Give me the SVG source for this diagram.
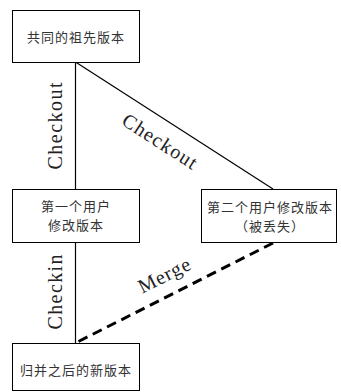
<svg xmlns="http://www.w3.org/2000/svg" width="341" height="392" viewBox="0 0 341 392">
<style>
.box{fill:#fff;stroke:#000;stroke-width:1}
.zh{font-family:"Noto Sans CJK SC","Noto Sans CJK JP",sans-serif;font-size:13px;letter-spacing:1px;fill:#333;text-anchor:middle;dominant-baseline:central}
.lbl{font-family:"Liberation Serif","DejaVu Serif",serif;font-size:20px;fill:#222;text-anchor:middle;dominant-baseline:central}
.ln{stroke:#000;stroke-width:1.2;fill:none}
.dash{stroke:#000;stroke-width:3;stroke-dasharray:10 6;fill:none}
</style>
<rect width="341" height="392" fill="#fff"/>
<g id="connectors">
<line class="ln" x1="75.5" y1="62" x2="75.5" y2="189"/>
<line class="ln" x1="75.5" y1="62" x2="273" y2="189"/>
<line class="ln" x1="75.5" y1="243" x2="75.5" y2="343"/>
<line class="dash" x1="273" y1="243" x2="75.5" y2="343"/>
<text class="lbl" transform="translate(55,126) rotate(-90)" textLength="87" lengthAdjust="spacing">Checkout</text>
<text class="lbl" transform="translate(160,141) rotate(32.8)" textLength="85" lengthAdjust="spacing">Checkout</text>
<text class="lbl" transform="translate(55,292) rotate(-90)" textLength="75" lengthAdjust="spacing">Checkin</text>
<text class="lbl" transform="translate(164,275) rotate(-26.8)" textLength="56" lengthAdjust="spacing">Merge</text>
</g>
<g id="ancestor">
<rect class="box" x="12.5" y="10.5" width="127" height="52"/>
<text class="zh" x="76" y="36">共同的祖先版本</text>
</g>
<g id="user1">
<rect class="box" x="12.5" y="189.5" width="127" height="53"/>
<text class="zh" x="76" y="205">第一个用户</text>
<text class="zh" x="76" y="224">修改版本</text>
</g>
<g id="user2">
<rect class="box" x="201.5" y="189.5" width="135" height="53"/>
<text class="zh" x="270" y="206">第二个用户修改版本</text>
<text class="zh" x="270" y="225">（被丢失）</text>
</g>
<g id="merged">
<rect class="box" x="12.5" y="343.5" width="127" height="47"/>
<text class="zh" x="76" y="369">归并之后的新版本</text>
</g>
</svg>
